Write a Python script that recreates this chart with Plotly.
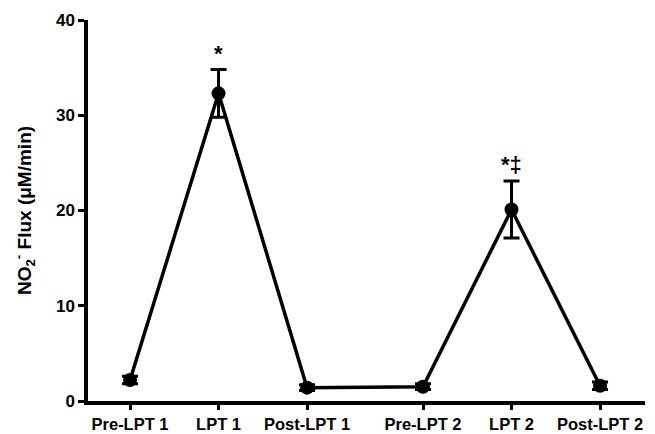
import plotly.graph_objects as go

categories = ["Pre-LPT 1", "LPT 1", "Post-LPT 1", "Pre-LPT 2", "LPT 2", "Post-LPT 2"]
flux_mean = [2.2, 32.3, 1.4, 1.5, 20.1, 1.6]
flux_sem = [0.4, 2.5, 0.3, 0.3, 3.0, 0.4]
significance = ["", "*", "", "", "*‡", ""]
y_ticks = [0, 10, 20, 30, 40]

# layout positions (gap between the two treatment blocks)
x_pos = [1, 2, 3, 4.31, 5.31, 6.31]

FONT = "Liberation Sans, Arial, sans-serif"

fig = go.Figure()
fig.add_trace(go.Scatter(
    x=x_pos, y=flux_mean, mode="lines+markers",
    line=dict(color="black", width=3.5),
    marker=dict(color="black", size=14, symbol="circle"),
    error_y=dict(type="data", array=flux_sem, visible=True,
                 color="black", thickness=3, width=8),
    showlegend=False, hoverinfo="skip",
))

for xp, m, e, s in zip(x_pos, flux_mean, flux_sem, significance):
    if s:
        fig.add_annotation(x=xp, y=m + e, text="<b>" + s + "</b>", showarrow=False,
                           yanchor="bottom", yshift=2,
                           font=dict(family=FONT, size=22, color="black"))

fig.update_layout(
    width=655, height=434,
    margin=dict(l=88, r=10, t=20, b=33),
    paper_bgcolor="white", plot_bgcolor="white",
    font=dict(family=FONT, color="black"),
    xaxis=dict(
        range=[0.525, 6.818], tickmode="array", tickvals=x_pos,
        ticktext=["<b>" + c + "</b>" for c in categories],
        showline=True, linecolor="black", linewidth=3.5,
        ticks="outside", ticklen=5, tickwidth=3, tickcolor="black",
        showgrid=False, zeroline=False, automargin=False,
        tickfont=dict(family=FONT, size=16.5, color="black"),
    ),
    yaxis=dict(
        range=[0, 40], tickmode="array", tickvals=y_ticks,
        ticktext=["<b>%d</b>" % t for t in y_ticks],
        showline=True, linecolor="black", linewidth=3.5,
        ticks="outside", ticklen=6, tickwidth=3, tickcolor="black",
        showgrid=False, zeroline=False, automargin=False,
        tickfont=dict(family=FONT, size=17, color="black"),
        title=dict(text="<b>NO<sub>2</sub><sup>-</sup> Flux (μM/min)</b>",
                   font=dict(family=FONT, size=19, color="black"), standoff=20),
    ),
)

fig.write_html("out.html", config={"displayModeBar": False},
               post_script="document.body.style.margin='0';")
